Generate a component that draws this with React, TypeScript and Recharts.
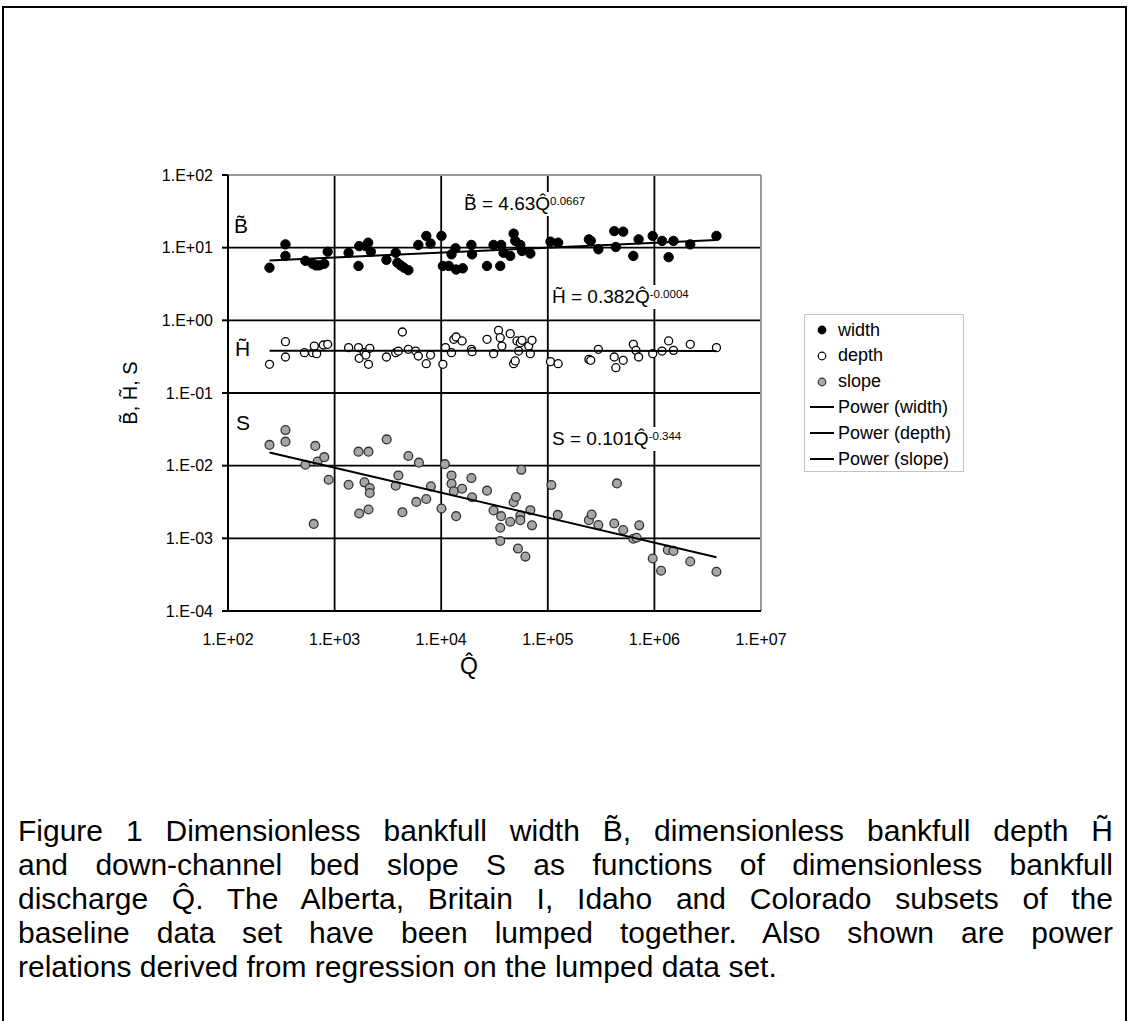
import React from 'react';
import { ScatterChart, Scatter, XAxis, YAxis, CartesianGrid, ReferenceLine } from 'recharts';

// ---------- axis ticks ----------
const qTicks = [1e2, 1e3, 1e4, 1e5, 1e6, 1e7];
const yTicks = [1e-4, 1e-3, 1e-2, 1e-1, 1e0, 1e1, 1e2];
const qGrid = [1e3, 1e4, 1e5, 1e6];
const yGrid = [1e-3, 1e-2, 1e-1, 1e0, 1e1];

// ---------- width (B~) ----------
const widthQ = [245, 346, 346, 532, 622, 669, 719, 800, 861, 1353, 1676, 1701, 1964, 2065, 2188, 3064, 3743, 3880, 4169, 4478, 4917, 6100, 7244, 7947, 10060, 10370, 11800, 12500, 13620, 13800, 15930, 19190, 19480, 26900, 31000, 35800, 36500, 38400, 44400, 47800, 49500, 55200, 57300, 68600, 106000, 125000, 243000, 253000, 298000, 420000, 435000, 510000, 634000, 711000, 964000, 1180000, 1360000, 1510000, 2170000, 3820000];
const widthB = [5.3, 11.1, 7.7, 6.6, 6.0, 5.7, 5.7, 6.0, 8.8, 8.5, 5.6, 10.5, 10.5, 11.7, 8.8, 6.8, 8.5, 6.2, 5.7, 5.3, 4.9, 10.9, 14.5, 11.4, 14.5, 5.6, 5.6, 8.1, 9.8, 5.0, 5.2, 10.9, 8.1, 5.6, 10.9, 5.6, 10.9, 8.5, 7.7, 15.6, 12.4, 10.9, 9.0, 8.3, 12.1, 11.7, 13.0, 12.4, 9.5, 16.9, 10.2, 16.6, 7.7, 13.0, 14.5, 12.4, 7.4, 12.4, 11.1, 14.5];

// ---------- depth (H~) ----------
const depthQ = [245, 346, 346, 521, 622, 645, 679, 784, 861, 1353, 1676, 1701, 1893, 1964, 2080, 2138, 3064, 3743, 3963, 4323, 4917, 5760, 6100, 7244, 7947, 10370, 10970, 12500, 13140, 13800, 15700, 19190, 19480, 26900, 31000, 34500, 35800, 37100, 44400, 51400, 53300, 55200, 57300, 66200, 68600, 71100, 47800, 49500, 106000, 125000, 243000, 253000, 298000, 420000, 435000, 510000, 634000, 671000, 711000, 964000, 1180000, 1360000, 1510000, 2170000, 3820000];
const depthH = [0.248, 0.508, 0.313, 0.359, 0.359, 0.443, 0.348, 0.458, 0.468, 0.421, 0.421, 0.300, 0.359, 0.333, 0.248, 0.412, 0.313, 0.359, 0.378, 0.691, 0.399, 0.378, 0.323, 0.253, 0.333, 0.248, 0.421, 0.359, 0.548, 0.590, 0.520, 0.399, 0.371, 0.548, 0.348, 0.728, 0.577, 0.443, 0.656, 0.520, 0.378, 0.493, 0.531, 0.443, 0.348, 0.531, 0.253, 0.276, 0.270, 0.253, 0.290, 0.282, 0.399, 0.313, 0.223, 0.282, 0.468, 0.386, 0.313, 0.348, 0.378, 0.520, 0.386, 0.468, 0.421];

// ---------- slope (S) ----------
const slopeQ = [245, 346, 346, 532, 637, 659, 693, 800, 879, 1353, 1676, 1701, 1906, 2080, 2080, 2138, 2138, 3082, 3743, 3963, 4323, 4917, 5840, 6180, 7244, 8000, 10060, 10820, 12500, 12500, 13140, 13800, 15700, 19190, 19480, 26900, 31000, 35800, 36500, 44400, 47800, 50300, 52500, 55200, 55200, 56400, 61600, 68600, 71100, 35800, 108000, 124000, 243000, 258000, 298000, 420000, 445000, 510000, 634000, 681000, 721000, 964000, 1156000, 1336000, 1510000, 2170000, 3820000];
const slopeS = [0.0193, 0.0309, 0.0214, 0.0103, 0.00158, 0.0187, 0.0114, 0.0131, 0.0064, 0.00547, 0.0156, 0.0022, 0.00589, 0.0156, 0.00249, 0.00492, 0.00421, 0.023, 0.0053, 0.00734, 0.00229, 0.0136, 0.00317, 0.011, 0.00348, 0.00519, 0.00257, 0.0105, 0.00734, 0.00565, 0.00444, 0.00202, 0.00482, 0.00675, 0.00367, 0.00453, 0.00242, 0.0014, 0.00202, 0.00169, 0.00314, 0.00371, 0.000723, 0.00206, 0.00178, 0.00877, 0.000561, 0.00244, 0.00151, 0.00092, 0.00541, 0.0021, 0.00178, 0.00213, 0.00152, 0.0016, 0.0057, 0.0013, 0.000988, 0.00102, 0.00151, 0.000527, 0.000358, 0.000693, 0.000672, 0.00048, 0.000347];

// ---------- power-law fits (as printed on the chart) ----------
const fitNames = ['width', 'depth', 'slope'];
const fitCoef = [4.63, 0.382, 0.101];
const fitExp = [0.0667, -0.0004, -0.344];
const fitRange = [245, 3820000];

const toPts = (xs: number[], ys: number[]) => xs.map((q, i) => ({ q, v: ys[i] }));
const widthData = toPts(widthQ, widthB);
const depthData = toPts(depthQ, depthH);
const slopeData = toPts(slopeQ, slopeS);
const fitData = fitNames.map((_, k) => fitRange.map((q) => ({ q, v: fitCoef[k] * Math.pow(q, fitExp[k]) })));

const FONT = '"Liberation Sans", Arial, Helvetica, sans-serif';

const fmtExp = (v: number) => {
  const e = Math.round(Math.log10(v));
  return '1.E' + (e < 0 ? '-' : '+') + String(Math.abs(e)).padStart(2, '0');
};

const dot = (fill: string, stroke: string, r: number, sw: number) => (p: any) =>
  <circle cx={p.cx} cy={p.cy} r={r} fill={fill} stroke={stroke} strokeWidth={sw} />;
const noShape = () => <g />;

const abs = (left: number, top: number, extra: any = {}) => ({ position: 'absolute' as const, left, top, ...extra });

const Eq = ({ left, top, main, sup }: { left: number; top: number; main: string; sup: string }) => (
  <div style={abs(left, top, { background: '#fff', fontSize: 19, lineHeight: '24px', whiteSpace: 'nowrap', padding: '0 1px' })}>
    {main}
    <span style={{ fontSize: 11.5, verticalAlign: 'top', position: 'relative', top: -3 }}>{sup}</span>
  </div>
);

const legendItems = [
  { label: 'width', kind: 'dot', fill: '#000', stroke: '#000' },
  { label: 'depth', kind: 'dot', fill: '#fff', stroke: '#000' },
  { label: 'slope', kind: 'dot', fill: '#a6a6a6', stroke: '#333' },
  { label: 'Power (width)', kind: 'line' },
  { label: 'Power (depth)', kind: 'line' },
  { label: 'Power (slope)', kind: 'line' },
];

const captionLines = [
  'Figure 1 Dimensionless bankfull width B\u0303, dimensionless bankfull depth H\u0303',
  'and down-channel bed slope S as functions of dimensionless bankfull',
  'discharge Q\u0302.  The Alberta, Britain I, Idaho and Colorado subsets of the',
  'baseline data set have been lumped together.  Also shown are power',
  'relations derived from regression on the lumped data set.',
];

export default function App() {
  return (
    <div style={{ position: 'relative', width: 1128, height: 1021, background: '#fff', overflow: 'hidden', fontFamily: FONT, color: '#000' }}>
      <style>{'html,body{margin:0;padding:0;background:#fff}'}</style>

      <div style={abs(0, 0)}>
        <ScatterChart width={1128} height={700} margin={{ top: 175, right: 367, bottom: 0, left: 0 }}>
          <CartesianGrid stroke="#000" strokeWidth={1.8} horizontalValues={yGrid} verticalValues={qGrid} />
          <XAxis
            type="number" dataKey="q" scale="log" domain={[1e2, 1e7]} ticks={qTicks} allowDataOverflow
            tickFormatter={fmtExp} height={89} tickSize={6} tickMargin={17} tickLine={false}
            stroke="#000" strokeWidth={2}
            tick={{ fill: '#000', fontSize: 16, fontFamily: FONT }} interval={0}
          />
          <YAxis
            type="number" dataKey="v" scale="log" domain={[1e-4, 1e2]} ticks={yTicks} allowDataOverflow
            tickFormatter={fmtExp} width={228} tickSize={6} tickMargin={9}
            stroke="#000" strokeWidth={2}
            tick={{ fill: '#000', fontSize: 16, fontFamily: FONT }} interval={0}
          />
          <ReferenceLine y={1e2} stroke="#999" strokeWidth={2} />
          <ReferenceLine x={1e7} stroke="#999" strokeWidth={2} />
          <Scatter name="width" data={widthData} shape={dot('#000', '#000', 4.7, 1)} isAnimationActive={false} />
          <Scatter name="depth" data={depthData} shape={dot('#fff', '#000', 4, 1.3)} isAnimationActive={false} />
          <Scatter name="slope" data={slopeData} shape={dot('#a6a6a6', '#333', 4.4, 1.3)} isAnimationActive={false} />
          {fitData.map((d, k) => (
            <Scatter key={k} name={'Power (' + fitNames[k] + ')'} data={d} line={{ stroke: '#000', strokeWidth: 2 }} shape={noShape} isAnimationActive={false} />
          ))}
        </ScatterChart>
      </div>

      {/* in-plot series labels */}
      <div style={abs(234, 212, { fontSize: 21, lineHeight: '28px' })}>{'B\u0303'}</div>
      <div style={abs(235, 335, { fontSize: 21, lineHeight: '28px' })}>{'H\u0303'}</div>
      <div style={abs(236, 409, { fontSize: 21, lineHeight: '28px' })}>S</div>

      {/* fit equations */}
      <Eq left={463} top={192} main={'B\u0303 = 4.63Q\u0302'} sup="0.0667" />
      <Eq left={551} top={285} main={'H\u0303 = 0.382Q\u0302'} sup="-0.0004" />
      <Eq left={551} top={427} main={'S = 0.101Q\u0302'} sup="-0.344" />

      {/* axis titles */}
      <div style={abs(130, 393, { fontSize: 20, whiteSpace: 'nowrap', transform: 'translate(-50%, -50%) rotate(-90deg)' })}>
        {'B\u0303, H\u0303, S'}
      </div>
      <div style={abs(469, 666, { fontSize: 23, transform: 'translate(-50%, -50%)' })}>{'Q\u0302'}</div>

      {/* legend */}
      <div style={abs(804, 314, { width: 160, height: 158, border: '1px solid #c4c4c4', boxSizing: 'border-box', background: '#fff' })}>
        {legendItems.map((it, i) => (
          <div key={i} style={abs(0, 3 + i * 25.8, { height: 24, display: 'flex', alignItems: 'center', fontSize: 18, whiteSpace: 'nowrap' })}>
            <svg width={33} height={24} style={{ display: 'block' }}>
              {it.kind === 'dot'
                ? <circle cx={17} cy={12} r={3.8} fill={it.fill} stroke={it.stroke} strokeWidth={1.2} />
                : <line x1={5} x2={29} y1={12} y2={12} stroke="#000" strokeWidth={2} />}
            </svg>
            <span>{it.label}</span>
          </div>
        ))}
      </div>

      {/* caption */}
      {captionLines.map((t, i) => (
        <div key={i} style={abs(18, 813 + i * 34, {
          width: 1095, fontSize: 30, lineHeight: '36px',
          textAlign: 'justify', textAlignLast: i < captionLines.length - 1 ? 'justify' : 'left',
        })}>{t}</div>
      ))}

      {/* outer frame (top, left, right) */}
      <svg width={1128} height={1021} style={{ position: 'absolute', left: 0, top: 0, pointerEvents: 'none', zIndex: 5 }}>
        <polyline points="3,1021 3,7 1126,7 1126,1021" fill="none" stroke="#000" strokeWidth={2} />
      </svg>
    </div>
  );
}
